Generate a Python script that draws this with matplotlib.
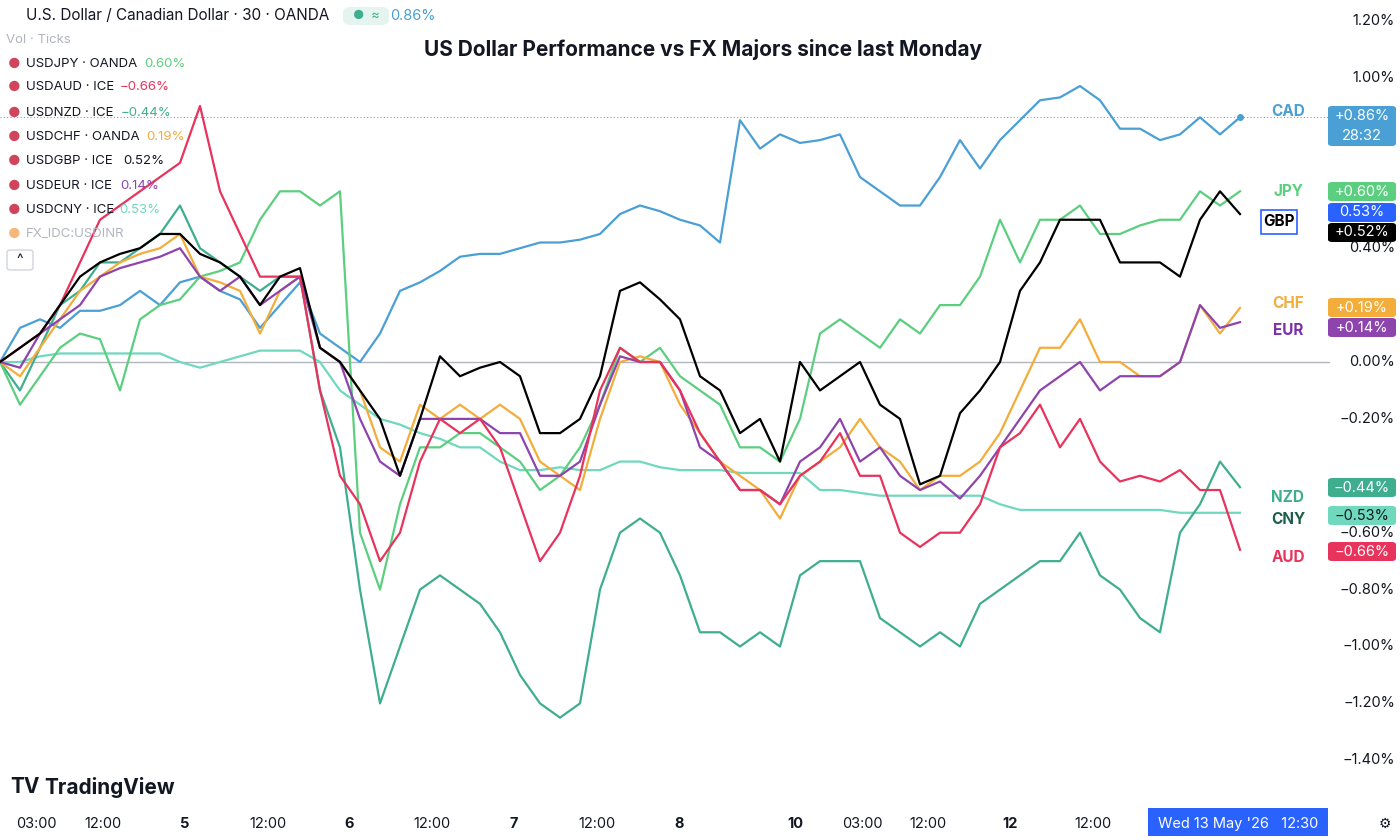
import numpy as np
import matplotlib
matplotlib.use("Agg")
import matplotlib.pyplot as plt
from matplotlib.patches import FancyBboxPatch

plt.rcParams['font.family'] = ['Inter', 'DejaVu Sans']

CAD = [0.0,0.12,0.15,0.12,0.18,0.18,0.2,0.25,0.2,0.28,0.3,0.25,0.22,0.12,0.2,0.28,0.1,0.05,0.0,0.1,0.25,0.28,0.32,0.37,0.38,0.38,0.4,0.42,0.42,0.43,0.45,0.52,0.55,0.53,0.5,0.48,0.42,0.85,0.75,0.8,0.77,0.78,0.8,0.65,0.6,0.55,0.55,0.65,0.78,0.68,0.78,0.85,0.92,0.93,0.97,0.92,0.82,0.82,0.78,0.8,0.86,0.8,0.86]
JPY = [0.0,-0.15,-0.05,0.05,0.1,0.08,-0.1,0.15,0.2,0.22,0.3,0.32,0.35,0.5,0.6,0.6,0.55,0.6,-0.6,-0.8,-0.5,-0.3,-0.3,-0.25,-0.25,-0.3,-0.35,-0.45,-0.4,-0.3,-0.15,0.05,0.0,0.05,-0.05,-0.1,-0.15,-0.3,-0.3,-0.35,-0.2,0.1,0.15,0.1,0.05,0.15,0.1,0.2,0.2,0.3,0.5,0.35,0.5,0.5,0.55,0.45,0.45,0.48,0.5,0.5,0.6,0.55,0.6]
GBP = [0.0,0.05,0.1,0.2,0.3,0.35,0.38,0.4,0.45,0.45,0.38,0.35,0.3,0.2,0.3,0.33,0.05,0.0,-0.1,-0.2,-0.4,-0.2,0.02,-0.05,-0.02,0.0,-0.05,-0.25,-0.25,-0.2,-0.05,0.25,0.28,0.22,0.15,-0.05,-0.1,-0.25,-0.2,-0.35,0.0,-0.1,-0.05,0.0,-0.15,-0.2,-0.43,-0.4,-0.18,-0.1,0.0,0.25,0.35,0.5,0.5,0.5,0.35,0.35,0.35,0.3,0.5,0.6,0.52]
CHF = [0.0,-0.05,0.05,0.15,0.25,0.3,0.35,0.38,0.4,0.45,0.3,0.28,0.25,0.1,0.25,0.3,0.05,0.0,-0.1,-0.3,-0.35,-0.15,-0.2,-0.15,-0.2,-0.15,-0.2,-0.35,-0.4,-0.45,-0.2,0.0,0.02,0.0,-0.15,-0.25,-0.35,-0.4,-0.45,-0.55,-0.4,-0.35,-0.3,-0.2,-0.3,-0.35,-0.45,-0.4,-0.4,-0.35,-0.25,-0.1,0.05,0.05,0.15,0.0,0.0,-0.05,-0.05,0.0,0.2,0.1,0.19]
EUR = [0.0,-0.02,0.1,0.15,0.2,0.3,0.33,0.35,0.37,0.4,0.3,0.25,0.3,0.2,0.25,0.3,0.05,0.0,-0.2,-0.35,-0.4,-0.2,-0.2,-0.2,-0.2,-0.25,-0.25,-0.4,-0.4,-0.35,-0.15,0.02,0.0,0.0,-0.1,-0.3,-0.35,-0.45,-0.45,-0.5,-0.35,-0.3,-0.2,-0.35,-0.3,-0.4,-0.45,-0.42,-0.48,-0.4,-0.3,-0.2,-0.1,-0.05,0.0,-0.1,-0.05,-0.05,-0.05,0.0,0.2,0.12,0.14]
AUD = [0.0,0.05,0.1,0.2,0.35,0.5,0.55,0.6,0.65,0.7,0.9,0.6,0.45,0.3,0.3,0.3,-0.1,-0.4,-0.5,-0.7,-0.6,-0.35,-0.2,-0.25,-0.2,-0.3,-0.5,-0.7,-0.6,-0.4,-0.1,0.05,0.0,0.0,-0.1,-0.25,-0.35,-0.45,-0.45,-0.5,-0.4,-0.35,-0.25,-0.4,-0.4,-0.6,-0.65,-0.6,-0.6,-0.5,-0.3,-0.25,-0.15,-0.3,-0.2,-0.35,-0.42,-0.4,-0.42,-0.38,-0.45,-0.45,-0.66]
NZD = [0.0,-0.1,0.05,0.2,0.25,0.35,0.35,0.4,0.45,0.55,0.4,0.35,0.3,0.25,0.3,0.3,-0.1,-0.3,-0.8,-1.2,-1.0,-0.8,-0.75,-0.8,-0.85,-0.95,-1.1,-1.2,-1.25,-1.2,-0.8,-0.6,-0.55,-0.6,-0.75,-0.95,-0.95,-1.0,-0.95,-1.0,-0.75,-0.7,-0.7,-0.7,-0.9,-0.95,-1.0,-0.95,-1.0,-0.85,-0.8,-0.75,-0.7,-0.7,-0.6,-0.75,-0.8,-0.9,-0.95,-0.6,-0.5,-0.35,-0.44]
CNY = [0.0,0.0,0.02,0.03,0.03,0.03,0.03,0.03,0.03,0.0,-0.02,0.0,0.02,0.04,0.04,0.04,0.0,-0.1,-0.15,-0.2,-0.22,-0.25,-0.27,-0.3,-0.3,-0.35,-0.38,-0.38,-0.37,-0.38,-0.38,-0.35,-0.35,-0.37,-0.38,-0.38,-0.38,-0.39,-0.39,-0.39,-0.39,-0.45,-0.45,-0.46,-0.47,-0.47,-0.47,-0.47,-0.47,-0.47,-0.5,-0.52,-0.52,-0.52,-0.52,-0.52,-0.52,-0.52,-0.52,-0.53,-0.53,-0.53,-0.53]

x_labels = ["03:00","12:00","5","12:00","6","12:00","7","12:00","8","10","03:00","12:00","12","12:00"]
x_label_px = [36,103,185,268,349,432,514,597,679,795,862,928,1010,1093]
y_ticks = [1.2,1.0,0.4,0.0,-0.2,-0.6,-0.8,-1.0,-1.2,-1.4]

W, H = 1400, 840
fig = plt.figure(figsize=(W/100, H/100), dpi=100)
ax = fig.add_axes([0, 1-800/H, 1330/W, 800/H])
step = 20.0  # px per sample
ax.set_xlim(0, 1330/step)
ax.set_ylim(-438/284.5, 362/284.5)
for s in ax.spines.values():
    s.set_visible(False)
ax.set_xticks([]); ax.set_yticks([])

xs = np.arange(len(CAD))
ax.axhline(0, color='#b2b5be', lw=1)
ax.axhline(CAD[-1], color='#9598a1', lw=0.8, ls=(0, (1, 2)))

series = [("CNY", CNY, '#6fd8bd'), ("NZD", NZD, '#3fae8f'), ("CAD", CAD, '#4a9fd5'),
          ("JPY", JPY, '#5bcf7f'), ("CHF", CHF, '#f2ad3a'), ("EUR", EUR, '#8e44ad'),
          ("AUD", AUD, '#e8335d'), ("GBP", GBP, '#000000')]
for name, vals, c in series:
    ax.plot(xs, vals, color=c, lw=1.6)
ax.plot(xs[-1], CAD[-1], 'o', color='#4a9fd5', ms=4)

def ft(x, y, s, **kw):
    return fig.text(x/W, 1-y/H, s, **kw)

for v in y_ticks:
    ypx = 362 - v*284.5
    ft(1395, ypx, f"{v:.2f}%".replace("-", "−"), ha='right', va='center', fontsize=10.5, color='#131722')

for lab, px in zip(x_labels, x_label_px):
    bold = lab.isdigit() and len(lab) <= 2
    ft(px, 824, lab, ha='center', va='center', fontsize=10.5, color='#131722',
       fontweight='bold' if bold else 'normal')
fig.patches.append(FancyBboxPatch((1148/W, 1-836/H), 180/W, 28/H, boxstyle='square,pad=0',
                                  transform=fig.transFigure, fc='#2962ff', ec='none'))
ft(1238, 824, "Wed 13 May '26   12:30", ha='center', va='center', fontsize=10.5, color='white')
ft(1385, 824, "⚙", ha='center', va='center', fontsize=10, color='#131722')

ft(703, 50, "US Dollar Performance vs FX Majors since last Monday", ha='center', va='center',
   fontsize=15, fontweight='bold', color='#131722')

labels = [("CAD", 111, '#4a9fd5'), ("JPY", 191, '#5bcf7f'), ("CHF", 304, '#f2ad3a'),
          ("EUR", 331, '#7b2fa8'), ("NZD", 498, '#3fae8f'), ("CNY", 520, '#1e5e4a'),
          ("AUD", 558, '#e8335d')]
for n, y, c in labels:
    ft(1288, y, n, ha='center', va='center', fontsize=11, fontweight='bold', color=c)
fig.patches.append(FancyBboxPatch((1261/W, 1-234/H), 36/W, 24/H, boxstyle='square,pad=0',
                                  transform=fig.transFigure, fc='white', ec='#2962ff', lw=1.2))
ft(1279, 222, "GBP", ha='center', va='center', fontsize=11, fontweight='bold', color='#000')

def box(y0, h, c, lines, tc='white'):
    fig.patches.append(FancyBboxPatch((1328/W, 1-(y0+h)/H), 68/W, h/H, boxstyle='round,pad=0,rounding_size=0.003',
                                      transform=fig.transFigure, fc=c, ec='none'))
    n = len(lines)
    for i, l in enumerate(lines):
        ft(1362, y0 + h*(i+0.5)/n, l, ha='center', va='center', fontsize=10.5, color=tc)

box(106, 40, '#4a9fd5', ["+0.86%", "28:32"])
box(182, 19, '#5bcf7f', ["+0.60%"])
box(203, 19, '#2962ff', ["0.53%"])
box(223, 19, '#000000', ["+0.52%"])
box(298, 19, '#f2ad3a', ["+0.19%"])
box(318, 19, '#8e44ad', ["+0.14%"])
box(478, 19, '#3fae8f', ["−0.44%"])
box(506, 19, '#6fd8bd', ["−0.53%"], tc='#131722')
box(542, 19, '#e8335d', ["−0.66%"])

ft(26, 16, "U.S. Dollar / Canadian Dollar · 30 · OANDA", ha='left', va='center', fontsize=11, color='#131722')
fig.patches.append(FancyBboxPatch((343/W, 1-25/H), 46/W, 18/H, boxstyle='round,pad=0,rounding_size=0.006',
                                  transform=fig.transFigure, fc='#e6f4ef', ec='none'))
ft(366, 16, "●  ≈", ha='center', va='center', fontsize=9, color='#3fae8f')
ft(390, 16, "0.86%", ha='left', va='center', fontsize=10.5, color='#4a9fd5')
ft(6, 40, "Vol · Ticks", ha='left', va='center', fontsize=9.5, color='#b2b5be')
leg = [("USDJPY · OANDA", "0.60%", '#5bcf7f', 64, 144), ("USDAUD · ICE", "−0.66%", '#e8335d', 87, 120),
       ("USDNZD · ICE", "−0.44%", '#3fae8f', 113, 121), ("USDCHF · OANDA", "0.19%", '#f2ad3a', 137, 146),
       ("USDGBP · ICE", "0.52%", '#131722', 161, 123), ("USDEUR · ICE", "0.14%", '#8e44ad', 186, 120),
       ("USDCNY · ICE", "0.53%", '#6fd8bd', 210, 119)]
for name, val, c, y, vx in leg:
    ft(8, y, "●", ha='left', va='center', fontsize=10, color='#d0455b')
    ft(26, y, name, ha='left', va='center', fontsize=9.5, color='#131722')
    ft(vx, y, val, ha='left', va='center', fontsize=9.5, color=c)
ft(26, 234, "FX_IDC:USDINR", ha='left', va='center', fontsize=9.5, color='#b2b5be')
ft(8, 234, "●", ha='left', va='center', fontsize=10, color='#f5b77a')
fig.patches.append(FancyBboxPatch((7/W, 1-270/H), 26/W, 20/H, boxstyle='round,pad=0,rounding_size=0.003',
                                  transform=fig.transFigure, fc='white', ec='#d1d4dc'))
ft(20, 260, "^", ha='center', va='center', fontsize=10, color='#131722')

ft(10, 787, "TV", ha='left', va='center', fontsize=15, fontweight='bold', color='#131722')
ft(44, 787, "TradingView", ha='left', va='center', fontsize=15, fontweight='bold', color='#131722')

fig.savefig("out.png", dpi=100, facecolor='white')
